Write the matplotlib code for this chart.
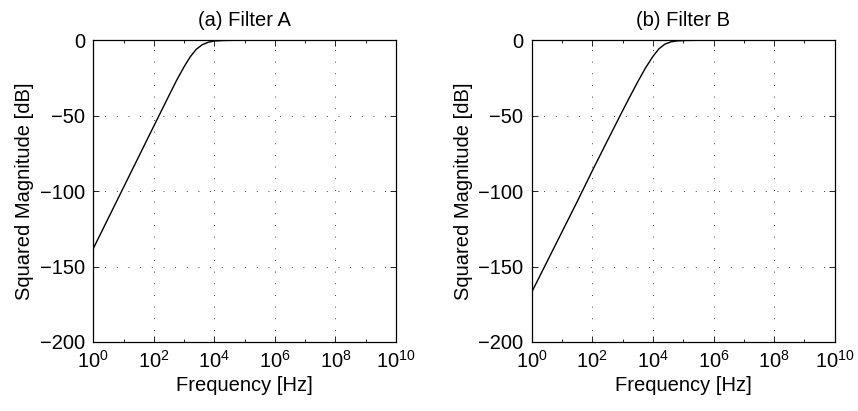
import matplotlib
matplotlib.use('Agg')
import matplotlib.pyplot as plt
from matplotlib.ticker import FixedLocator, NullFormatter

plt.rcParams['font.family'] = ['Liberation Sans', 'DejaVu Sans']
plt.rcParams['font.size'] = 14.5
plt.rcParams['mathtext.fontset'] = 'custom'
plt.rcParams['mathtext.rm'] = 'Liberation Sans'

## valores (frequencia em Hz, magnitude em dB)
freq_a = [1e0, 10**0.5, 1e1, 10**1.5, 1e2, 10**2.5, 10**2.75, 1e3, 10**3.2,
          10**3.4, 10**3.6, 10**3.8, 1e4, 10**4.3, 10**4.7, 1e10]
mag_a = [-138, -117.7, -97.4, -77.1, -56.8, -36.6, -26.6, -17.5, -11.0,
         -6.0, -2.9, -1.3, -0.5, -0.14, 0, 0]

freq_b = [1e0, 10**0.5, 1e1, 10**1.5, 1e2, 10**2.5, 1e3, 10**3.25, 10**3.5,
          10**3.75, 1e4, 10**4.2, 10**4.4, 10**4.6, 10**4.8, 10**5.1, 10**5.5, 1e10]
mag_b = [-167, -147, -127, -107, -86.5, -66.5, -46.7, -37.0, -27.5,
         -18.5, -10.7, -5.6, -2.5, -1.0, -0.4, -0.1, 0, 0]

titulos = ['(a) Filter A', '(b) Filter B']
xticks_maior = [1e0, 1e2, 1e4, 1e6, 1e8, 1e10]
xticks_menor = [1e1, 1e3, 1e5, 1e7, 1e9]
yticks = [-200, -150, -100, -50, 0]

fig = plt.figure(figsize=(8.58, 4.11), dpi=100)
ax_a = fig.add_axes([0.1088, 0.168, 0.3527, 0.734])
ax_b = fig.add_axes([0.6197, 0.168, 0.3532, 0.734])

for ax, f, m, t in zip([ax_a, ax_b], [freq_a, freq_b], [mag_a, mag_b], titulos):
    ax.semilogx(f, m, color='black', linewidth=1.0)
    ax.set_xlim(1e0, 1e10)
    ax.set_ylim(-200, 0)
    ax.set_xticks(xticks_maior)
    ax.xaxis.set_minor_locator(FixedLocator(xticks_menor))
    ax.xaxis.set_minor_formatter(NullFormatter())
    ax.set_yticks(yticks)
    ax.grid(True, which='major', color='black', linestyle=(0, (1, 13)), linewidth=0.6)
    ax.tick_params(which='both', direction='in', top=True, right=True)
    ax.tick_params(which='major', length=4, width=0.6, labelsize=14.5)
    ax.tick_params(axis='y', pad=6)
    ax.tick_params(axis='x', pad=6)
    ax.tick_params(which='minor', length=2.5, width=0.6)
    for s in ax.spines.values():
        s.set_linewidth(0.9)
    ax.set_title(t, fontsize=14.5, pad=10)
    ax.set_xlabel('Frequency [Hz]', fontsize=14.5, labelpad=3)
    ax.set_ylabel('Squared Magnitude [dB]', fontsize=14.5, labelpad=4)

plt.savefig('out.png', dpi=100)
